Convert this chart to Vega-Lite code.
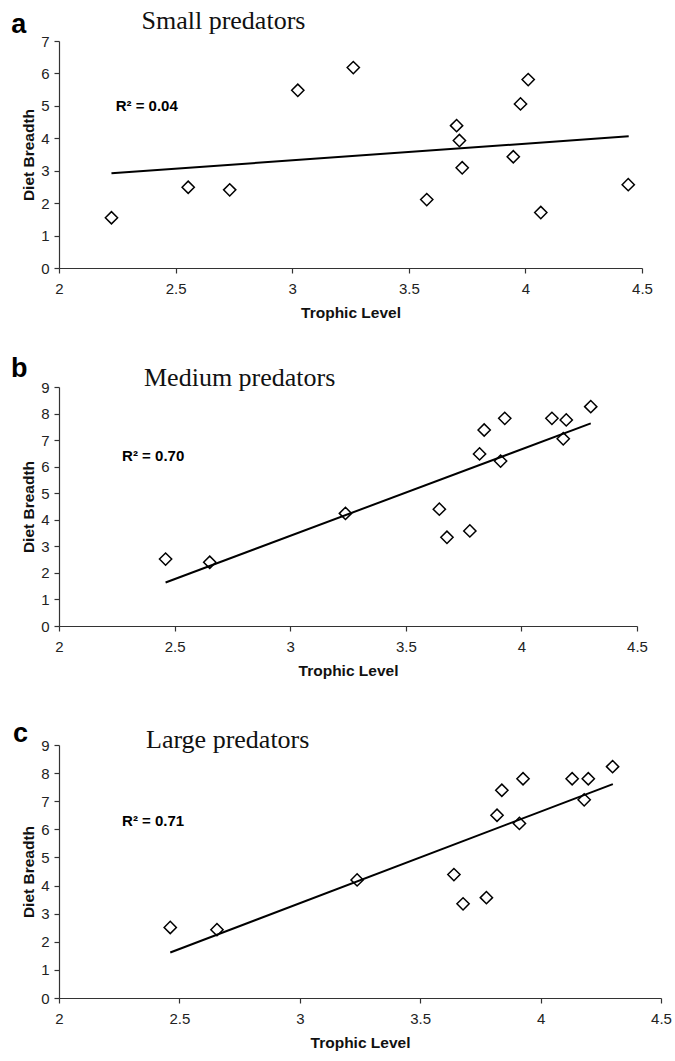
{
  "$schema": "https://vega.github.io/schema/vega-lite/v6.json",
  "padding": {"left": 10, "top": 7, "right": 5, "bottom": 5},
  "background": "white",
  "bounds": "flush",
  "spacing": 119,
  "datasets": {
    "small": [
      {"TL": 2.225, "DB": 1.55}, {"TL": 2.554, "DB": 2.49}, {"TL": 2.732, "DB": 2.41},
      {"TL": 3.024, "DB": 5.48}, {"TL": 3.262, "DB": 6.18}, {"TL": 3.577, "DB": 2.11},
      {"TL": 3.705, "DB": 4.39}, {"TL": 3.717, "DB": 3.93}, {"TL": 3.729, "DB": 3.09},
      {"TL": 3.948, "DB": 3.43}, {"TL": 3.979, "DB": 5.06}, {"TL": 4.012, "DB": 5.81},
      {"TL": 4.066, "DB": 1.71}, {"TL": 4.441, "DB": 2.57}
    ],
    "small_fit": [{"TL": 2.225, "DB": 2.92}, {"TL": 4.443, "DB": 4.06}],
    "small_r2": [{"label": "R² = 0.04"}],
    "medium": [
      {"TL": 2.461, "DB": 2.52}, {"TL": 2.652, "DB": 2.40}, {"TL": 3.239, "DB": 4.24},
      {"TL": 3.645, "DB": 4.40}, {"TL": 3.678, "DB": 3.34}, {"TL": 3.777, "DB": 3.58},
      {"TL": 3.819, "DB": 6.48}, {"TL": 3.839, "DB": 7.38}, {"TL": 3.910, "DB": 6.21},
      {"TL": 3.928, "DB": 7.82}, {"TL": 4.132, "DB": 7.82}, {"TL": 4.194, "DB": 7.76},
      {"TL": 4.181, "DB": 7.05}, {"TL": 4.300, "DB": 8.26}
    ],
    "medium_fit": [{"TL": 2.461, "DB": 1.64}, {"TL": 4.300, "DB": 7.63}],
    "medium_r2": [{"label": "R² = 0.70"}],
    "large": [
      {"TL": 2.462, "DB": 2.51}, {"TL": 2.656, "DB": 2.43}, {"TL": 3.238, "DB": 4.20},
      {"TL": 3.640, "DB": 4.39}, {"TL": 3.678, "DB": 3.35}, {"TL": 3.775, "DB": 3.57},
      {"TL": 3.819, "DB": 6.50}, {"TL": 3.839, "DB": 7.39}, {"TL": 3.912, "DB": 6.21},
      {"TL": 3.927, "DB": 7.80}, {"TL": 4.131, "DB": 7.80}, {"TL": 4.198, "DB": 7.80},
      {"TL": 4.181, "DB": 7.05}, {"TL": 4.299, "DB": 8.23}
    ],
    "large_fit": [{"TL": 2.462, "DB": 1.62}, {"TL": 4.300, "DB": 7.61}],
    "large_r2": [{"label": "R² = 0.71"}]
  },
  "vconcat": [
    {
      "width": 583,
      "height": 227,
      "resolve": {"axis": {"x": "independent", "y": "independent"}},
      "layer": [
        {
          "data": {"name": "small"},
          "mark": {"type": "point", "shape": "diamond", "filled": false, "stroke": "#000", "strokeWidth": 1.5, "size": 150, "opacity": 1},
          "encoding": {
            "x": {"field": "TL", "type": "quantitative", "scale": {"domain": [2, 4.5], "nice": false, "zero": false},
                  "axis": {"orient": "bottom", "title": "Trophic Level", "values": [2, 2.5, 3, 3.5, 4, 4.5], "format": "~g"}},
            "y": {"field": "DB", "type": "quantitative", "scale": {"domain": [0, 7], "nice": false},
                  "axis": {"orient": "left", "title": "Diet Breadth", "values": [0, 1, 2, 3, 4, 5, 6, 7], "format": "~g"}}
          }
        },
        {
          "data": {"name": "small_fit"},
          "mark": {"type": "line", "color": "#000", "strokeWidth": 2},
          "encoding": {
            "x": {"field": "TL", "type": "quantitative", "scale": {"domain": [2, 4.5], "nice": false, "zero": false},
                  "axis": {"orient": "top", "domain": false, "ticks": false, "labels": false, "grid": false,
                           "title": "Small predators", "titleFont": "Liberation Serif", "titleFontSize": 26, "titleFontWeight": "normal",
                           "titleColor": "#111", "titleAlign": "left", "titleBaseline": "alphabetic", "titleX": 82, "titleY": -13}},
            "y": {"field": "DB", "type": "quantitative", "scale": {"domain": [0, 7], "nice": false},
                  "axis": {"orient": "right", "domain": false, "ticks": false, "labels": false, "grid": false,
                           "title": "a", "titleAngle": 0, "titleFont": "Liberation Sans", "titleFontSize": 27, "titleFontWeight": "bold",
                           "titleColor": "#000", "titleAlign": "left", "titleBaseline": "alphabetic", "titleX": -631.3, "titleY": -9}}
          }
        },
        {
          "data": {"name": "small_r2"},
          "mark": {"type": "text", "align": "left", "baseline": "alphabetic", "font": "Liberation Sans", "fontWeight": "bold", "fontSize": 15, "color": "#000"},
          "encoding": {
            "text": {"field": "label"},
            "x": {"datum": 2.243, "type": "quantitative", "scale": {"domain": [2, 4.5], "nice": false, "zero": false}, "axis": null},
            "y": {"datum": 4.84, "type": "quantitative", "scale": {"domain": [0, 7], "nice": false}, "axis": null}
          }
        }
      ]
    },
    {
      "width": 578,
      "height": 239,
      "resolve": {"axis": {"x": "independent", "y": "independent"}},
      "layer": [
        {
          "data": {"name": "medium"},
          "mark": {"type": "point", "shape": "diamond", "filled": false, "stroke": "#000", "strokeWidth": 1.5, "size": 150, "opacity": 1},
          "encoding": {
            "x": {"field": "TL", "type": "quantitative", "scale": {"domain": [2, 4.5], "nice": false, "zero": false},
                  "axis": {"orient": "bottom", "title": "Trophic Level", "values": [2, 2.5, 3, 3.5, 4, 4.5], "format": "~g"}},
            "y": {"field": "DB", "type": "quantitative", "scale": {"domain": [0, 9], "nice": false},
                  "axis": {"orient": "left", "title": "Diet Breadth", "values": [0, 1, 2, 3, 4, 5, 6, 7, 8, 9], "format": "~g"}}
          }
        },
        {
          "data": {"name": "medium_fit"},
          "mark": {"type": "line", "color": "#000", "strokeWidth": 2},
          "encoding": {
            "x": {"field": "TL", "type": "quantitative", "scale": {"domain": [2, 4.5], "nice": false, "zero": false},
                  "axis": {"orient": "top", "domain": false, "ticks": false, "labels": false, "grid": false,
                           "title": "Medium predators", "titleFont": "Liberation Serif", "titleFontSize": 26, "titleFontWeight": "normal",
                           "titleColor": "#111", "titleAlign": "left", "titleBaseline": "alphabetic", "titleX": 84.5, "titleY": -2}},
            "y": {"field": "DB", "type": "quantitative", "scale": {"domain": [0, 9], "nice": false},
                  "axis": {"orient": "right", "domain": false, "ticks": false, "labels": false, "grid": false,
                           "title": "b", "titleAngle": 0, "titleFont": "Liberation Sans", "titleFontSize": 27, "titleFontWeight": "bold",
                           "titleColor": "#000", "titleAlign": "left", "titleBaseline": "alphabetic", "titleX": -626.5, "titleY": -11}}
          }
        },
        {
          "data": {"name": "medium_r2"},
          "mark": {"type": "text", "align": "left", "baseline": "alphabetic", "font": "Liberation Sans", "fontWeight": "bold", "fontSize": 15, "color": "#000"},
          "encoding": {
            "text": {"field": "label"},
            "x": {"datum": 2.273, "type": "quantitative", "scale": {"domain": [2, 4.5], "nice": false, "zero": false}, "axis": null},
            "y": {"datum": 6.21, "type": "quantitative", "scale": {"domain": [0, 9], "nice": false}, "axis": null}
          }
        }
      ]
    },
    {
      "width": 602,
      "height": 253,
      "resolve": {"axis": {"x": "independent", "y": "independent"}},
      "layer": [
        {
          "data": {"name": "large"},
          "mark": {"type": "point", "shape": "diamond", "filled": false, "stroke": "#000", "strokeWidth": 1.5, "size": 150, "opacity": 1},
          "encoding": {
            "x": {"field": "TL", "type": "quantitative", "scale": {"domain": [2, 4.5], "nice": false, "zero": false},
                  "axis": {"orient": "bottom", "title": "Trophic Level", "values": [2, 2.5, 3, 3.5, 4, 4.5], "format": "~g"}},
            "y": {"field": "DB", "type": "quantitative", "scale": {"domain": [0, 9], "nice": false},
                  "axis": {"orient": "left", "title": "Diet Breadth", "values": [0, 1, 2, 3, 4, 5, 6, 7, 8, 9], "format": "~g"}}
          }
        },
        {
          "data": {"name": "large_fit"},
          "mark": {"type": "line", "color": "#000", "strokeWidth": 2},
          "encoding": {
            "x": {"field": "TL", "type": "quantitative", "scale": {"domain": [2, 4.5], "nice": false, "zero": false},
                  "axis": {"orient": "top", "domain": false, "ticks": false, "labels": false, "grid": false,
                           "title": "Large predators", "titleFont": "Liberation Serif", "titleFontSize": 26, "titleFontWeight": "normal",
                           "titleColor": "#111", "titleAlign": "left", "titleBaseline": "alphabetic", "titleX": 86.5, "titleY": 2}},
            "y": {"field": "DB", "type": "quantitative", "scale": {"domain": [0, 9], "nice": false},
                  "axis": {"orient": "right", "domain": false, "ticks": false, "labels": false, "grid": false,
                           "title": "c", "titleAngle": 0, "titleFont": "Liberation Sans", "titleFontSize": 27, "titleFontWeight": "bold",
                           "titleColor": "#000", "titleAlign": "left", "titleBaseline": "alphabetic", "titleX": -648.5, "titleY": -4}}
          }
        },
        {
          "data": {"name": "large_r2"},
          "mark": {"type": "text", "align": "left", "baseline": "alphabetic", "font": "Liberation Sans", "fontWeight": "bold", "fontSize": 15, "color": "#000"},
          "encoding": {
            "text": {"field": "label"},
            "x": {"datum": 2.262, "type": "quantitative", "scale": {"domain": [2, 4.5], "nice": false, "zero": false}, "axis": null},
            "y": {"datum": 6.12, "type": "quantitative", "scale": {"domain": [0, 9], "nice": false}, "axis": null}
          }
        }
      ]
    }
  ],
  "config": {
    "view": {"stroke": null},
    "axis": {
      "grid": false,
      "labelFont": "Liberation Sans",
      "labelFontSize": 15,
      "labelColor": "#222",
      "titleFont": "Liberation Sans",
      "titleFontSize": 15.5,
      "titleFontWeight": "bold",
      "titleColor": "#111",
      "domainColor": "#333",
      "domainWidth": 1.2,
      "tickColor": "#333",
      "tickWidth": 1.2,
      "tickSize": 5
    },
    "axisX": {"labelPadding": 8, "titlePadding": 9, "labelFlush": false},
    "axisY": {"labelPadding": 5, "titlePadding": 4}
  }
}
